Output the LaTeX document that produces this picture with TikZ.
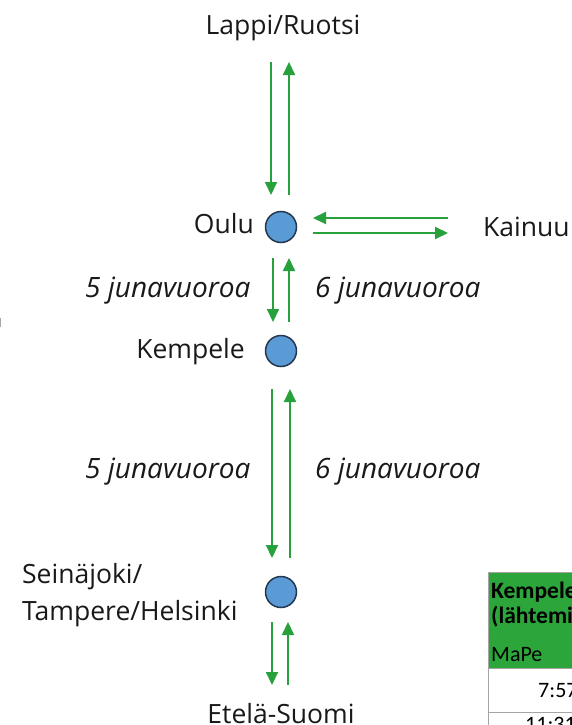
\documentclass[tikz,border=0pt]{standalone}
\usepackage{fontspec}
\setmainfont{Open Sans}
\newfontfamily\tablefont{Carlito}
\usetikzlibrary{arrows.meta}
\definecolor{arrowgreen}{RGB}{40,160,60}
\definecolor{stationblue}{RGB}{91,155,213}
\definecolor{stationedge}{RGB}{35,55,80}
\definecolor{headgreen}{RGB}{44,165,58}
\definecolor{gridgray}{RGB}{165,165,165}
\begin{document}
\begin{tikzpicture}[x=1pt,y=-1pt,
  flow/.style={draw=arrowgreen, line width=2pt, -{Triangle[width=12pt,length=13pt]}},
  station/.style={circle, draw=stationedge, line width=1.5pt, fill=stationblue, minimum size=31pt, inner sep=0pt},
  lbl/.style={font=\fontsize{26.5}{30}\selectfont, inner sep=0pt, text=black!90},
  cnt/.style={font=\fontsize{28}{32}\selectfont\itshape, inner sep=0pt, text=black!90},
  tbl/.style={font=\fontsize{22}{26}\selectfont\tablefont, inner sep=0pt, anchor=base west},
  tblb/.style={tbl, font=\fontsize{23.5}{26}\selectfont\tablefont\bfseries}]
\useasboundingbox (0,0) rectangle (572,725);
\clip (0,0) rectangle (572,725);

% stations
\node[station] (oulu) at (281,227) {};
\node[station] (kempele) at (281,351) {};
\node[station] (seina) at (281,592) {};

% labels
\node[lbl, anchor=base] (lappi) at (283,35) {Lappi/Ruotsi};
\node[lbl, anchor=base east] (oululbl) at (254,233) {Oulu};
\node[lbl, anchor=base west] (kainuu) at (483,236) {Kainuu};
\node[lbl, anchor=base east] (kempelelbl) at (245,358) {Kempele};
\node[lbl, anchor=base west] (seinalbl1) at (22,583) {Seinäjoki/};
\node[lbl, anchor=base west] (seinalbl2) at (22,620) {Tampere/Helsinki};
\node[lbl, anchor=base] (etela) at (281,723) {Etelä-Suomi};

\node[cnt, anchor=base west] (c1) at (85,297) {5 junavuoroa};
\node[cnt, anchor=base west] (c2) at (315,297) {6 junavuoroa};
\node[cnt, anchor=base west] (c3) at (85,478) {5 junavuoroa};
\node[cnt, anchor=base west] (c4) at (315,478) {6 junavuoroa};

% arrow end points
\coordinate (a1s) at (271,62);  \coordinate (a1e) at (271,195);
\coordinate (a2s) at (289,195); \coordinate (a2e) at (289,62);
\coordinate (a3s) at (273,258); \coordinate (a3e) at (273,322);
\coordinate (a4s) at (289,322); \coordinate (a4e) at (289,258);
\coordinate (a5s) at (272,389); \coordinate (a5e) at (272,558);
\coordinate (a6s) at (290,558); \coordinate (a6e) at (290,389);
\coordinate (a7s) at (272,622); \coordinate (a7e) at (272,685);
\coordinate (a8s) at (288,685); \coordinate (a8e) at (288,622);
\coordinate (h1s) at (448,218); \coordinate (h1e) at (313,218);
\coordinate (h2s) at (313,233); \coordinate (h2e) at (448,233);

\draw[flow] (a1s) -- (a1e);
\draw[flow] (a2s) -- (a2e);
\draw[flow] (a3s) -- (a3e);
\draw[flow] (a4s) -- (a4e);
\draw[flow] (a5s) -- (a5e);
\draw[flow] (a6s) -- (a6e);
\draw[flow] (a7s) -- (a7e);
\draw[flow] (a8s) -- (a8e);
\draw[flow] (h1s) -- (h1e);
\draw[flow] (h2s) -- (h2e);

% table fragment
\fill[headgreen] (488,572) rectangle (580,668);
\draw[gridgray, line width=1pt] (488,572) rectangle (580,668);
\draw[gridgray, line width=1pt] (488,668) -- (488,730);
\draw[gridgray, line width=1pt] (488,712) -- (580,712);
\node[tblb] (t1) at (491,598) {Kempele};
\node[tblb] (t2) at (491,623) {(lähtemi};
\node[tbl] (t3) at (491,661) {MaPe};
\node[tbl] (t4) at (538,697) {7:57};
\node[tbl] (t5) at (525,731) {11:31};

% edge mark
\fill[gray!70] (0,318) rectangle (1.2,327);
\end{tikzpicture}
\end{document}
